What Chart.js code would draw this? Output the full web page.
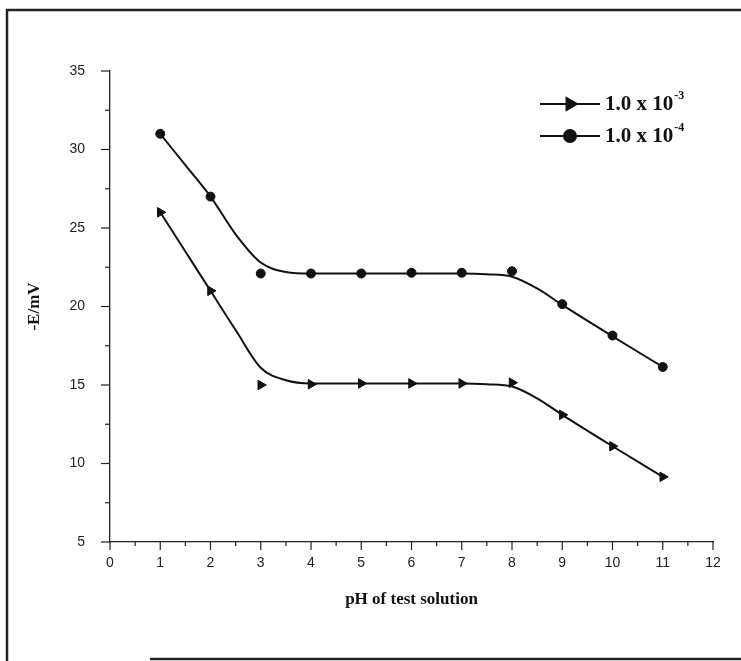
<!DOCTYPE html>
<html>
<head>
<meta charset="utf-8">
<title>-E/mV vs pH</title>
<script src="https://cdn.jsdelivr.net/npm/chart.js@4.4.1/dist/chart.umd.min.js"></script>
<style>
  html, body { margin: 0; padding: 0; background: #fff; }
  #wrap { position: relative; width: 741px; height: 661px; }
</style>
</head>
<body>
<div id="wrap"><canvas id="chart" width="741" height="661"></canvas></div>
<script>
// measured points (pH, -E/mV)
const phValues = [1, 2, 3, 4, 5, 6, 7, 8, 9, 10, 11];
const conc1e3 = [26, 21, 15, 15.05, 15.1, 15.1, 15.1, 15.15, 13.1, 11.1, 9.15];
const conc1e4 = [31, 27, 22.1, 22.1, 22.1, 22.15, 22.15, 22.25, 20.15, 18.15, 16.15];

// fitted curves
const fitPh = [1, 1.5, 2, 2.5, 3, 3.5, 4, 5, 6, 7, 7.5, 8, 8.5, 9, 10, 11];
const fit1e3 = [26, 23.5, 21, 18.5, 16.1, 15.3, 15.1, 15.1, 15.1, 15.1, 15.05, 14.9, 14.15, 13.1, 11.1, 9.15];
const fit1e4 = [31, 29, 27, 24.6, 22.8, 22.2, 22.1, 22.1, 22.1, 22.1, 22.05, 21.9, 21.15, 20.1, 18.1, 16.15];

const legendItems = [
  { base: '1.0 x 10', sup: '-3', style: 'triangle', rot: 90, radius: 7 },
  { base: '1.0 x 10', sup: '-4', style: 'circle', rot: 0, radius: 6 }
];

const toXY = (xs, ys) => xs.map((x, i) => ({ x: x, y: ys[i] }));

// outward tick marks, long on labelled ticks, short in between
const tickMarks = {
  id: 'tickMarks',
  afterDraw(chart) {
    const ctx = chart.ctx;
    const area = chart.chartArea;
    ctx.save();
    ctx.strokeStyle = '#222';
    ctx.lineWidth = 1.2;
    chart.scales.x.ticks.forEach(t => {
      const px = chart.scales.x.getPixelForValue(t.value);
      const len = Number.isInteger(t.value) ? 8 : 4;
      ctx.beginPath(); ctx.moveTo(px, area.bottom); ctx.lineTo(px, area.bottom + len); ctx.stroke();
    });
    chart.scales.y.ticks.forEach(t => {
      const py = chart.scales.y.getPixelForValue(t.value);
      const len = t.value % 5 === 0 ? 9 : 5;
      ctx.beginPath(); ctx.moveTo(area.left, py); ctx.lineTo(area.left - len, py); ctx.stroke();
    });
    ctx.restore();
  }
};

// legend with line + marker and superscript exponent
const supLegend = {
  id: 'supLegend',
  afterDraw(chart) {
    const ctx = chart.ctx;
    ctx.save();
    legendItems.forEach((it, i) => {
      const y = 104 + i * 32;
      ctx.strokeStyle = '#111';
      ctx.lineWidth = 2;
      ctx.beginPath(); ctx.moveTo(540, y); ctx.lineTo(600, y); ctx.stroke();
      ctx.fillStyle = '#111';
      Chart.helpers.drawPoint(ctx, { pointStyle: it.style, rotation: it.rot, radius: it.radius, borderWidth: 1 }, 570, y);
      ctx.font = 'bold 21px "Liberation Serif", "Times New Roman", serif';
      ctx.textBaseline = 'middle';
      ctx.textAlign = 'left';
      ctx.fillText(it.base, 605, y + 1);
      const w = ctx.measureText(it.base).width;
      ctx.font = 'bold 12px "Liberation Serif", "Times New Roman", serif';
      ctx.fillText(it.sup, 605 + w + 1, y - 8);
    });
    ctx.restore();
  }
};

// scanned page frame
const pageFrame = {
  id: 'pageFrame',
  beforeDraw(chart) {
    const ctx = chart.ctx;
    ctx.save();
    ctx.strokeStyle = '#222';
    ctx.lineWidth = 2.5;
    ctx.beginPath();
    ctx.moveTo(7, 661); ctx.lineTo(7, 10); ctx.lineTo(741, 10);
    ctx.moveTo(150, 659); ctx.lineTo(741, 659);
    ctx.stroke();
    ctx.restore();
  }
};

const serifBold = { family: '"Liberation Serif", "Times New Roman", serif', size: 17, weight: 'bold' };
const sansTick = { family: '"Liberation Sans", Arial, sans-serif', size: 14 };

new Chart(document.getElementById('chart'), {
  type: 'line',
  data: {
    datasets: [
      { label: 'fit 1.0 x 10-3', data: toXY(fitPh, fit1e3), borderColor: '#111', borderWidth: 2,
        pointRadius: 0, cubicInterpolationMode: 'monotone', fill: false },
      { label: 'fit 1.0 x 10-4', data: toXY(fitPh, fit1e4), borderColor: '#111', borderWidth: 2,
        pointRadius: 0, cubicInterpolationMode: 'monotone', fill: false },
      { label: '1.0 x 10-3', data: toXY(phValues, conc1e3), showLine: false, pointStyle: 'triangle',
        rotation: 90, pointRadius: 5.5, backgroundColor: '#111', borderColor: '#111', borderWidth: 1 },
      { label: '1.0 x 10-4', data: toXY(phValues, conc1e4), showLine: false, pointStyle: 'circle',
        pointRadius: 4.5, backgroundColor: '#111', borderColor: '#111', borderWidth: 1 }
    ]
  },
  options: {
    responsive: false,
    animation: false,
    events: [],
    layout: { padding: { left: 0, top: 71, right: 28, bottom: 0 } },
    plugins: { legend: { display: false }, tooltip: { enabled: false } },
    scales: {
      x: {
        type: 'linear', min: 0, max: 12,
        grid: { display: false },
        border: { display: true, color: '#222', width: 1.3 },
        ticks: { stepSize: 0.5, autoSkip: false, maxRotation: 0, padding: 5, color: '#222', font: sansTick,
          callback: v => Number.isInteger(v) ? v : '' },
        title: { display: true, text: 'pH of test solution', color: '#111', font: serifBold, padding: { top: 0, bottom: 51 } },
        afterFit: s => { s.height = 119; }
      },
      y: {
        type: 'linear', min: 5, max: 35,
        grid: { display: false },
        border: { display: true, color: '#222', width: 1.3 },
        ticks: { stepSize: 2.5, autoSkip: false, padding: 17, color: '#222', font: sansTick,
          callback: v => v % 5 === 0 ? v : '' },
        title: { display: true, text: '-E/mV', color: '#111', font: serifBold, padding: { top: 24, bottom: 0 } },
        afterFit: s => { s.width = 110; }
      }
    }
  },
  plugins: [pageFrame, tickMarks, supLegend]
});
</script>
</body>
</html>
